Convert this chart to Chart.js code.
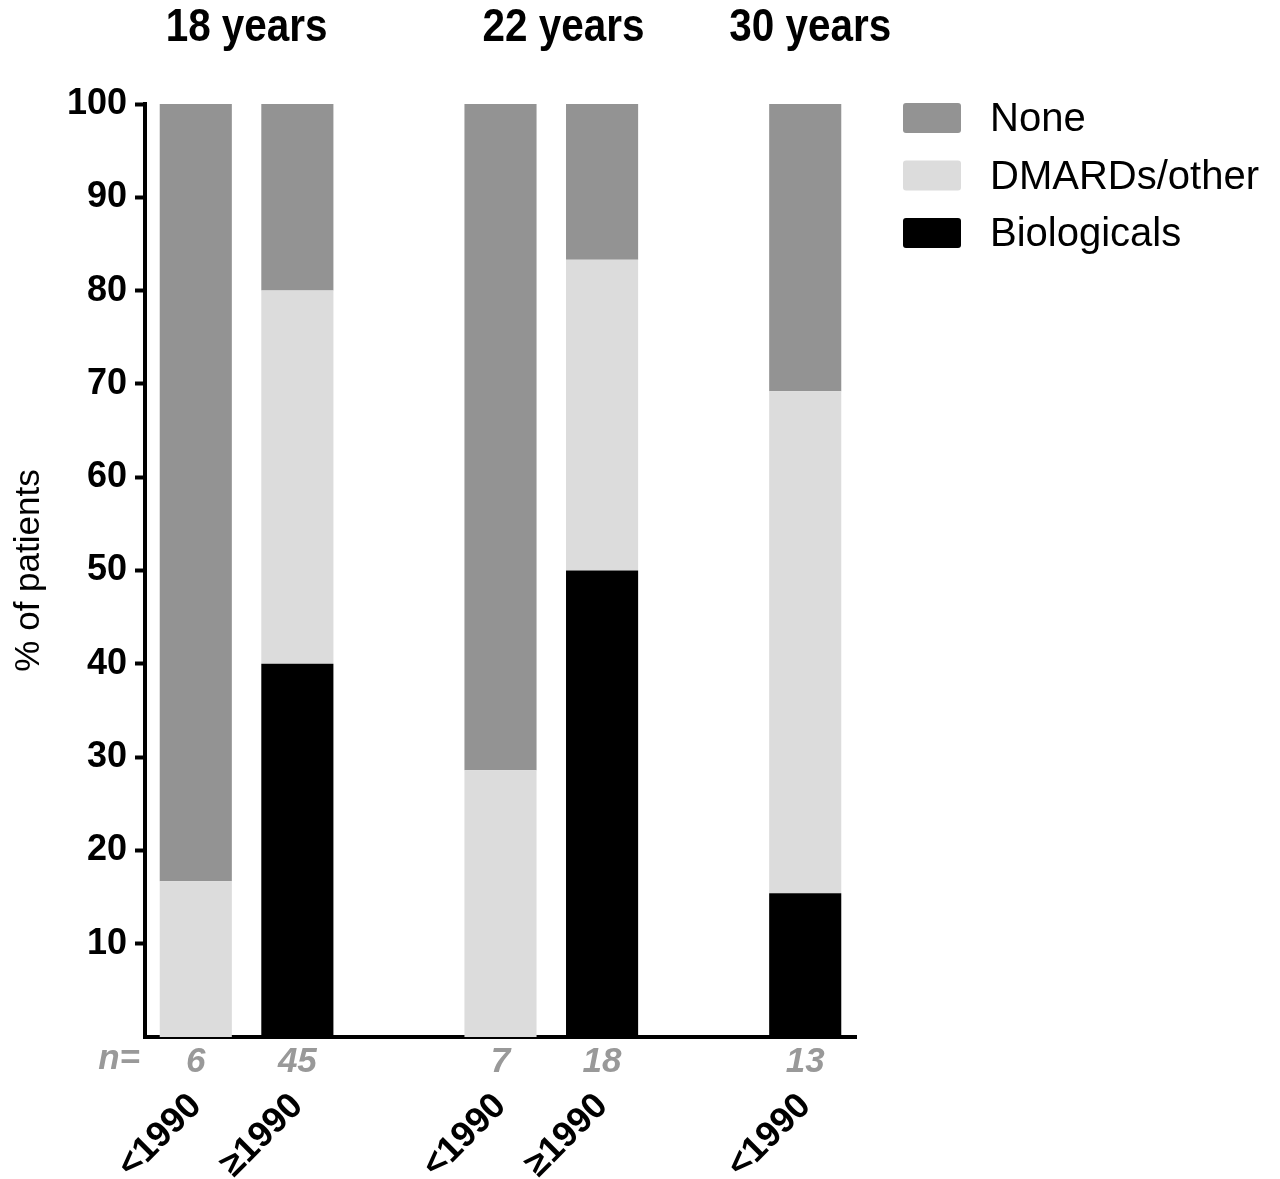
<!DOCTYPE html>
<html>
<head>
<meta charset="utf-8">
<script src="https://cdn.jsdelivr.net/npm/chart.js@4/dist/chart.umd.min.js"></script>
<style>
  html, body { margin: 0; padding: 0; background: #fff; }
  #wrap { width: 1280px; height: 1179px; }
</style>
</head>
<body>
<div id="wrap"><canvas id="treatChart" width="1280" height="1179"></canvas></div>
<script>
// slots: 18 years (<1990, >=1990), gap, 22 years (<1990, >=1990), gap, 30 years (<1990)
const categories = ["18y <1990", "18y ≥1990", "", "22y <1990", "22y ≥1990", "", "30y <1990"];
const periodLabels = ["<1990", "≥1990", "", "<1990", "≥1990", "", "<1990"];
const nValues = ["6", "45", "", "7", "18", "", "13"];
const groupTitles = ["18 years", "22 years", "30 years"];

const biologicals = [0, 40, null, 0, 50, null, 15.4];
const dmards = [16.7, 40, null, 28.6, 33.3, null, 53.8];
const none = [83.3, 20, null, 71.4, 16.7, null, 30.8];

const yTicks = [10, 20, 30, 40, 50, 60, 70, 80, 90, 100];

const FONT = "'Liberation Sans', Arial, sans-serif";

// titles over the groups, the "n=" lead and the legend, placed from the x scale
const extrasPlugin = {
  id: "extras",
  afterDraw(chart) {
    const ctx = chart.ctx;
    const x = chart.scales.x;
    const slot = x.width / categories.length;
    const anchors = [0.5, 3.62, 6.05];
    ctx.save();
    ctx.fillStyle = "#000";
    ctx.font = "bold 47px " + FONT;
    ctx.textAlign = "center";
    ctx.textBaseline = "middle";
    groupTitles.forEach((t, i) => {
      const cx = x.left + (anchors[i] + 0.5) * slot;
      ctx.save();
      ctx.translate(cx, 28);
      ctx.scale(0.86, 1); // narrow bold look
      ctx.fillText(t, 0, 0);
      ctx.restore();
    });

    ctx.fillStyle = "#999";
    ctx.font = "italic bold 35px " + FONT;
    ctx.textAlign = "right";
    ctx.fillText("n=", x.left - 5, 1059);

    // legend, top entry = top of the stack
    ctx.textAlign = "left";
    ctx.font = "40px " + FONT;
    const sets = chart.data.datasets.slice().reverse();
    sets.forEach((ds, i) => {
      const cy = 118 + i * 57.5;
      ctx.fillStyle = ds.backgroundColor;
      ctx.beginPath();
      ctx.roundRect(903, cy - 15, 58, 30, 3);
      ctx.fill();
      ctx.fillStyle = "#000";
      ctx.fillText(ds.label, 990, cy + 2);
    });
    ctx.restore();
  }
};

new Chart(document.getElementById("treatChart"), {
  type: "bar",
  data: {
    labels: nValues,
    datasets: [
      { label: "Biologicals", data: biologicals, backgroundColor: "#000000" },
      { label: "DMARDs/other", data: dmards, backgroundColor: "#dcdcdc" },
      { label: "None", data: none, backgroundColor: "#939393" }
    ]
  },
  options: {
    responsive: false,
    animation: false,
    layout: { padding: { top: 104, right: 424, left: 0, bottom: 0 } },
    datasets: { bar: { categoryPercentage: 1, barPercentage: 0.71, borderWidth: 0 } },
    plugins: { legend: { display: false }, tooltip: { enabled: false } },
    scales: {
      x: {
        stacked: true,
        position: "bottom",
        grid: { display: false },
        border: { display: true, color: "#000", width: 4 },
        ticks: { color: "#999", font: { family: FONT, size: 35, weight: "bold", style: "italic" }, padding: -4, maxRotation: 0, autoSkip: false },
        afterFit(scale) { scale.height = 40; }
      },
      x2: {
        type: "category",
        labels: periodLabels,
        position: "bottom",
        grid: { display: false },
        border: { display: false },
        ticks: { color: "#000", font: { family: FONT, size: 36, weight: "bold" }, minRotation: 45, maxRotation: 45, padding: 0, autoSkip: false },
        afterFit(scale) { scale.height = 102; }
      },
      y: {
        stacked: true,
        min: 0,
        max: 100,
        afterBuildTicks(scale) { scale.ticks = yTicks.map(v => ({ value: v })); },
        grid: { drawOnChartArea: false, drawTicks: true, tickLength: 10, tickWidth: 4, color: "#000" },
        border: { display: true, color: "#000", width: 4 },
        ticks: { color: "#000", font: { family: FONT, size: 36, weight: "bold" }, padding: 8 },
        title: { display: true, text: "% of patients", color: "#000", font: { family: FONT, size: 35 }, padding: { top: 8, bottom: 0 } },
        afterFit(scale) { scale.width = 145; }
      }
    }
  },
  plugins: [extrasPlugin]
});
</script>
</body>
</html>
